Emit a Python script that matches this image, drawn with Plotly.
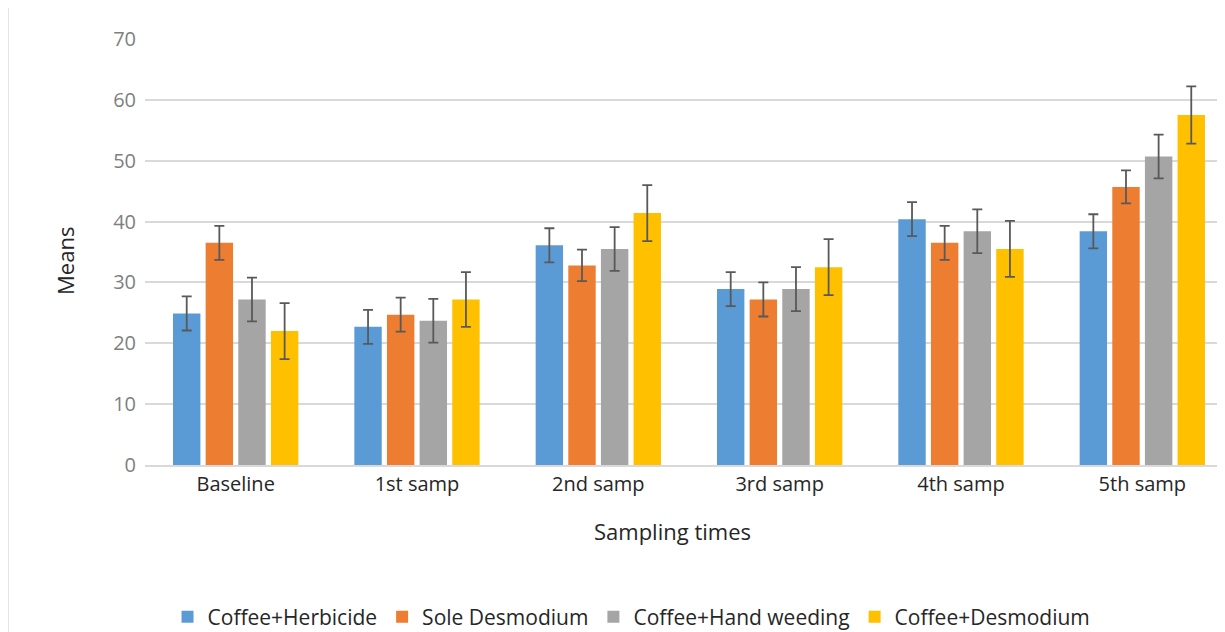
import plotly.graph_objects as go

categories = ["Baseline", "1st samp", "2nd samp", "3rd samp", "4th samp", "5th samp"]
series_names = ["Coffee+Herbicide", "Sole Desmodium", "Coffee+Hand weeding", "Coffee+Desmodium"]

herbicide = [24.9, 22.7, 36.1, 28.9, 40.4, 38.4]
sole_desmodium = [36.5, 24.7, 32.8, 27.2, 36.5, 45.7]
hand_weeding = [27.2, 23.7, 35.5, 28.9, 38.4, 50.7]
coffee_desmodium = [22.0, 27.2, 41.4, 32.5, 35.5, 57.5]

err_herbicide = [2.8, 2.8, 2.8, 2.8, 2.8, 2.8]
err_sole = [2.8, 2.8, 2.6, 2.8, 2.8, 2.7]
err_hand = [3.6, 3.6, 3.6, 3.6, 3.6, 3.6]
err_coffee_des = [4.6, 4.5, 4.6, 4.6, 4.6, 4.7]

colors = ["#5B9BD5", "#ED7D31", "#A5A5A5", "#FFC000"]
FONT = "Open Sans"

fig = go.Figure()
for name, vals, errs, col in zip(
    series_names,
    [herbicide, sole_desmodium, hand_weeding, coffee_desmodium],
    [err_herbicide, err_sole, err_hand, err_coffee_des],
    colors,
):
    fig.add_trace(go.Bar(
        x=categories, y=vals, name=name,
        marker=dict(color=col, line=dict(width=0)),
        error_y=dict(type="data", array=errs, visible=True,
                     color="#595959", thickness=1.8, width=5),
    ))

fig.update_layout(
    width=1225, height=632,
    margin=dict(l=137, r=8, t=31, b=175, autoexpand=False),
    paper_bgcolor="white", plot_bgcolor="white",
    barmode="group", bargap=0.28, bargroupgap=0.16,
    font=dict(family=FONT, size=20, color="#262626"),
    showlegend=True,
    legend=dict(orientation="h", xref="container", yref="container",
                x=0.509, xanchor="center", y=0.0364, yanchor="middle",
                font=dict(family=FONT, size=21, color="#262626"),
                itemwidth=30, tracegroupgap=0),
    xaxis=dict(range=[-0.5, 5.456], showgrid=False, showline=True, automargin=False,
               linecolor="#D9D9D9", linewidth=1.5, ticks="",
               tickfont=dict(family=FONT, size=20, color="#262626")),
    yaxis=dict(range=[0, 70], dtick=10, showgrid=True, gridcolor="#D9D9D9", gridwidth=1.5,
               zeroline=False, showline=False, ticks="", automargin=False,
               tickfont=dict(family=FONT, size=20, color="#7F7F7F"),
               ticklabelstandoff=8),
    annotations=[
        dict(text="Means", xref="paper", yref="paper", x=-0.0741, y=0.479,
             xanchor="center", yanchor="middle", textangle=-90, showarrow=False,
             font=dict(family=FONT, size=22, color="#262626")),
        dict(text="Sampling times", xref="paper", yref="paper", x=0.4885, y=-0.155,
             xanchor="center", yanchor="middle", showarrow=False,
             font=dict(family=FONT, size=22, color="#262626")),
    ],
    shapes=[dict(type="line", xref="paper", yref="paper",
                 x0=-0.1269, x1=-0.1269, y0=1.073, y1=-0.4,
                 line=dict(color="#D9D9D9", width=1.5))],
)

fig.write_html("out.html")
